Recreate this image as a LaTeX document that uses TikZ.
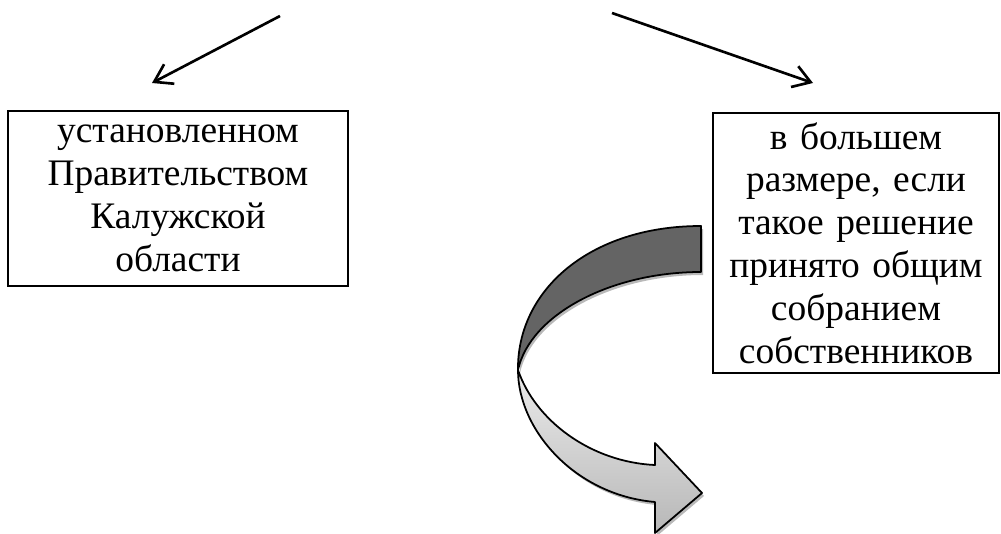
\documentclass[tikz,border=0pt]{standalone}
\usepackage{fontspec}
\setmainfont{Liberation Serif}
\usepackage{tikz}
\usetikzlibrary{arrows.meta, positioning}
\tikzstyle{tbox} = [draw, line width=1.1pt, align=center, inner sep=0pt, font=\fontsize{21.3}{24.4}\selectfont]
\tikzstyle{line} = [draw, line width=1.5pt, -{Straight Barb[length=3.4mm, width=4.4mm]}]
\tikzstyle{ribbon} = [draw, line width=1pt, line join=round]
\definecolor{ribdark}{RGB}{100,100,100}
\definecolor{ribshadow}{RGB}{185,185,185}
\newcommand{\upperband}{(701,226) .. controls (590,226) and (517,290) .. (518,370)
		.. controls (530,315) and (610,272) .. (701,272) -- cycle}
\newcommand{\lowerband}{(518,370) .. controls (518,430) and (575,495) .. (655,502)
		-- (655,533) -- (702,493) -- (655,443) -- (655,465)
		.. controls (590,462) and (535,420) .. (518,370) -- cycle}

\begin{document}
\begin{tikzpicture}[x=0.02cm, y=-0.02cm]
	\useasboundingbox (0,0) rectangle (1001,534);
	% boxes
	\node [tbox, minimum width=6.8cm, minimum height=3.5cm, text width=6.6cm] (gov) at (178,198.5)
		{установленном\\Правительством\\Калужской\\области};
	\node [tbox, minimum width=5.72cm, minimum height=5.2cm, text width=5.6cm] (meet) at (856,243)
		{в большем\\размере, если\\такое решение\\принято общим\\собранием\\собственников};
	
	% arrows
	\coordinate (ls) at (280,16);
	\coordinate (lt) at (152,83);
	\coordinate (rs) at (612,13);
	\coordinate (rt) at (813,83);
	\path [line] (ls) -- (lt);
	\path [line] (rs) -- (rt);
	
	% curved arrow
	\begin{scope}[shift={(2,3)}]
		\fill [ribshadow] \lowerband;
		\fill [ribshadow] \upperband;
	\end{scope}
	\filldraw [ribbon, fill=ribdark] \upperband;
	\path [ribbon, top color=black!8, bottom color=black!28] \lowerband;
\end{tikzpicture}
\end{document}
